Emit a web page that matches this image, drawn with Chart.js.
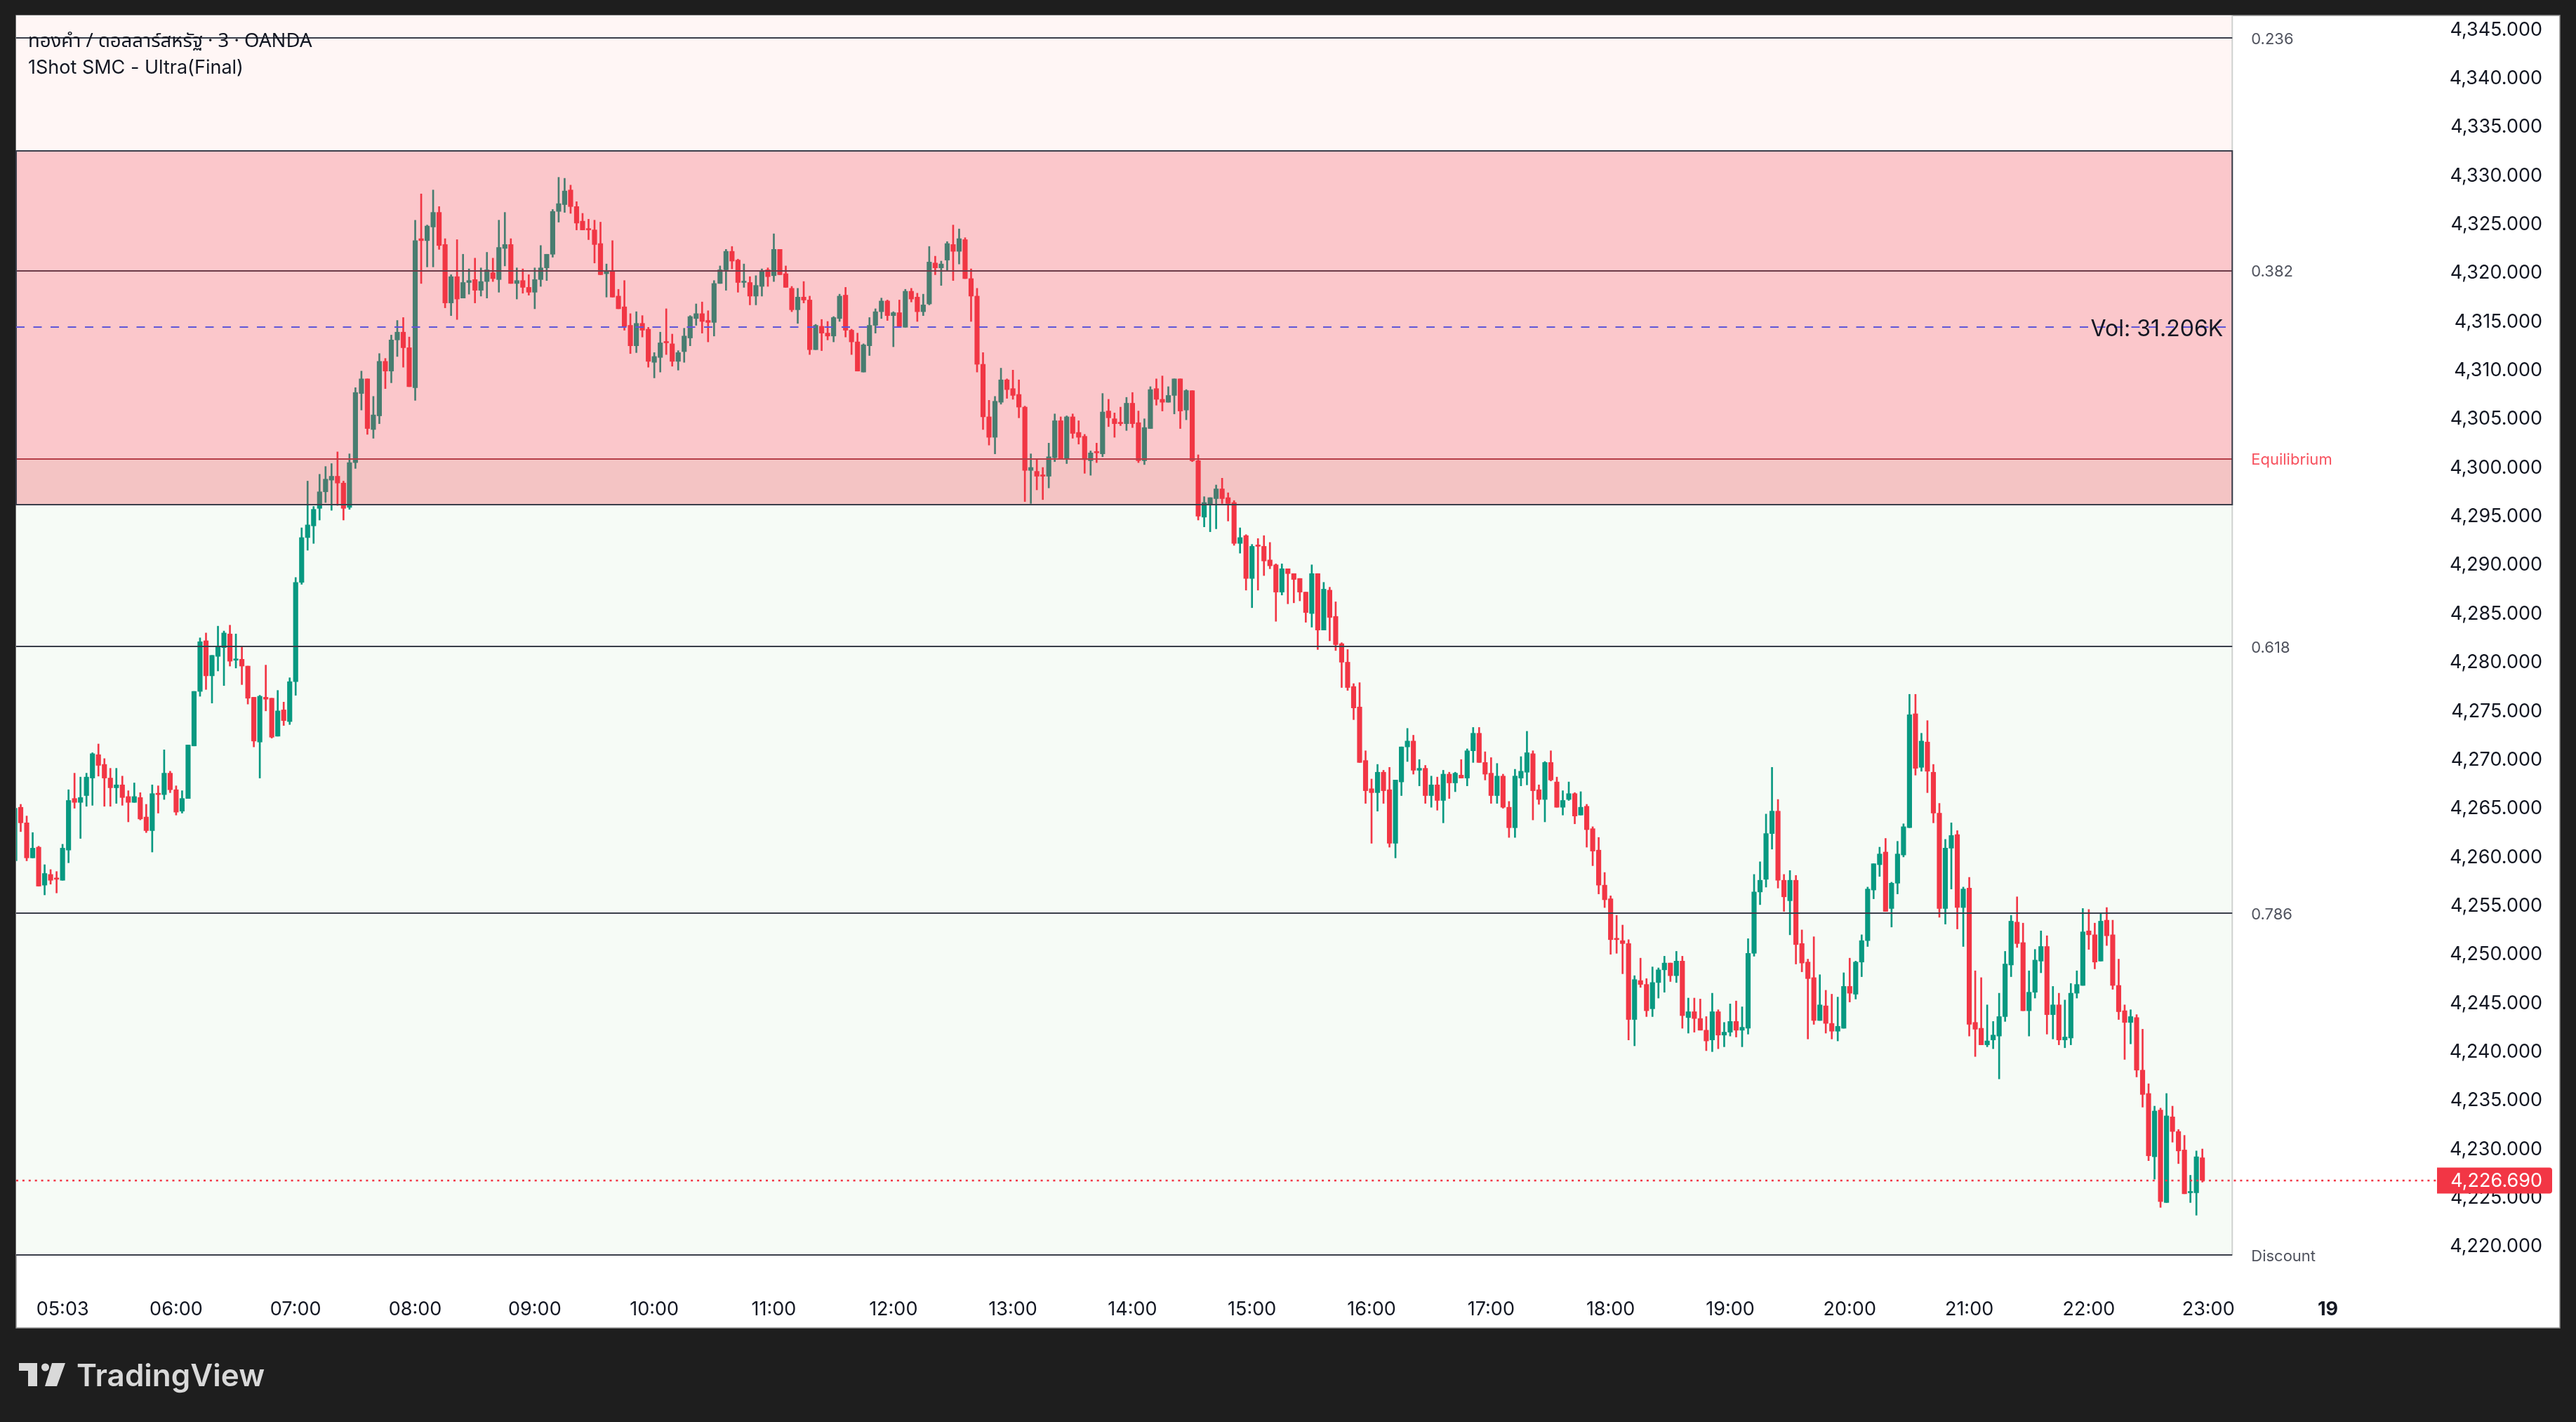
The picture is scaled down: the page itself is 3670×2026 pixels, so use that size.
<!DOCTYPE html>
<html>
<head>
<meta charset="utf-8">
<title>XAUUSD 3m</title>
<script src="https://cdn.jsdelivr.net/npm/chart.js@4"></script>
<style>
html, body { margin: 0; padding: 0; background: #1e1e1e; }
canvas { display: block; }
</style>
</head>
<body>
<canvas id="myChart" width="3670" height="2026"></canvas>
<script>
// 3 minute candles, first bar 04:39
const opens = [
4259.5,4265.0,4263.4,4259.8,4260.9,4257.0,4258.1,4257.7,4257.5,4260.6,
4265.9,4265.5,4266.2,4268.0,4270.4,4269.4,4268.0,4267.0,4267.3,4266.1,
4265.5,4266.0,4264.0,4262.6,4266.4,4266.3,4268.5,4266.8,4264.6,4265.9,
4271.3,4276.9,4282.1,4278.5,4280.5,4281.4,4282.8,4280.1,4280.2,4279.5,
4276.3,4271.7,4276.3,4276.2,4272.3,4275.0,4273.8,4277.9,4288.1,4292.7,
4293.9,4295.7,4297.4,4298.6,4299.0,4298.3,4295.8,4300.4,4307.5,4309.0,
4303.8,4305.2,4310.8,4309.8,4313.0,4313.8,4312.2,4308.1,4323.4,4323.2,
4324.6,4326.1,4322.8,4316.8,4319.5,4317.3,4318.9,4319.2,4318.1,4319.0,
4319.9,4319.2,4322.4,4322.8,4318.8,4319.1,4318.4,4317.9,4319.2,4320.4,
4321.8,4326.2,4326.9,4328.4,4326.7,4325.2,4324.4,4324.3,4322.9,4319.8,
4320.0,4317.5,4316.4,4314.5,4312.4,4314.7,4314.1,4310.7,4311.2,4312.8,
4312.6,4310.8,4311.8,4313.2,4315.2,4315.7,4315.0,4314.8,4318.8,4320.2,
4322.1,4321.2,4318.9,4318.9,4317.5,4318.5,4320.2,4319.6,4322.3,4319.8,
4318.3,4316.1,4317.4,4317.1,4312.0,4314.4,4313.7,4313.4,4315.2,4317.6,
4314.0,4312.8,4309.7,4312.4,4314.5,4315.9,4317.0,4315.5,4315.8,4314.3,
4318.0,4317.4,4315.9,4316.7,4320.9,4320.4,4321.2,4322.8,4322.1,4323.3,
4319.3,4317.5,4310.5,4305.1,4303.0,4306.6,4308.9,4308.0,4307.4,4306.1,
4299.6,4299.5,4299.1,4299.0,4300.9,4304.7,4300.8,4305.1,4303.5,4303.1,
4300.6,4301.5,4301.3,4305.7,4304.9,4304.5,4304.4,4306.5,4304.5,4300.6,
4303.9,4308.0,4306.9,4306.6,4307.3,4309.0,4305.8,4307.8,4300.6,4294.8,
4296.1,4296.7,4297.7,4296.8,4296.3,4292.1,4292.9,4288.5,4291.9,4291.8,
4290.4,4289.9,4287.1,4289.5,4289.0,4288.5,4287.1,4284.9,4289.0,4283.2,
4287.3,4284.6,4281.8,4279.9,4277.4,4275.3,4269.8,4266.9,4266.5,4268.6,
4266.8,4261.3,4267.6,4271.2,4271.8,4268.8,4269.0,4266.2,4267.3,4265.7,
4268.4,4267.5,4268.3,4268.0,4270.8,4272.6,4269.6,4268.5,4266.2,4268.2,
4265.0,4262.9,4268.0,4268.6,4270.5,4266.8,4265.8,4269.6,4267.6,4265.0,
4265.8,4266.4,4264.2,4265.1,4262.8,4260.6,4257.0,4255.6,4251.5,4251.3,
4251.0,4243.2,4247.2,4246.8,4244.3,4247.0,4248.3,4249.0,4247.7,4249.2,
4243.4,4244.0,4243.3,4242.1,4241.1,4244.0,4241.6,4241.9,4243.0,4242.1,
4242.3,4250.0,4256.3,4257.6,4262.3,4264.6,4257.5,4255.4,4257.5,4251.0,
4249.1,4247.5,4243.1,4244.6,4242.8,4242.0,4242.3,4246.6,4245.8,4249.1,
4251.3,4256.5,4259.1,4260.4,4254.6,4257.2,4260.1,4262.9,4274.6,4269.1,
4271.7,4268.6,4264.4,4254.6,4260.8,4262.2,4254.7,4256.7,4242.9,4242.3,
4240.6,4241.1,4241.5,4243.5,4248.8,4253.2,4251.1,4244.1,4246.0,4249.2,
4250.7,4243.7,4244.7,4241.1,4241.3,4245.9,4246.7,4252.3,4251.9,4249.2,
4253.4,4251.9,4246.7,4244.1,4242.9,4243.4,4238.0,4235.6,4229.1,4233.9,
4224.4,4233.2,4231.7,4229.8,4225.4,4225.4,4229.0
];
const closes = [
4264.9,4263.4,4259.8,4260.8,4256.9,4258.2,4257.5,4257.6,4260.8,4265.7,
4265.5,4266.0,4268.1,4270.5,4269.3,4268.0,4267.0,4267.3,4266.0,4265.5,
4266.1,4263.8,4262.6,4266.4,4266.3,4268.5,4266.8,4264.5,4265.9,4271.4,
4276.9,4282.0,4278.5,4280.6,4281.5,4282.9,4280.0,4280.2,4279.5,4276.2,
4271.8,4276.4,4276.1,4272.2,4274.9,4273.9,4277.9,4288.1,4292.7,4294.0,
4295.6,4297.4,4298.7,4299.0,4298.3,4295.7,4300.4,4307.6,4309.0,4303.9,
4305.3,4310.8,4309.8,4313.0,4313.8,4312.2,4308.2,4323.2,4323.2,4324.7,
4326.1,4322.7,4316.8,4319.5,4317.2,4318.9,4319.1,4318.1,4319.0,4320.2,
4319.3,4322.5,4322.8,4318.8,4319.1,4318.4,4317.9,4319.2,4320.4,4321.8,
4326.2,4327.0,4328.3,4326.7,4325.0,4324.3,4324.3,4322.8,4319.7,4320.0,
4317.4,4316.2,4314.4,4312.4,4314.7,4314.0,4310.8,4311.3,4312.7,4312.7,
4310.8,4311.7,4313.4,4315.4,4315.7,4314.9,4314.8,4318.8,4320.2,4322.1,
4321.1,4318.9,4319.0,4317.5,4318.6,4320.0,4319.5,4322.3,4319.7,4318.4,
4316.1,4317.4,4317.1,4312.0,4314.5,4313.7,4313.4,4315.3,4317.5,4314.0,
4312.8,4309.8,4312.5,4314.5,4315.9,4317.0,4315.5,4315.8,4314.4,4318.0,
4317.2,4315.9,4316.6,4321.0,4320.4,4320.8,4322.9,4322.1,4323.4,4319.3,
4317.5,4310.5,4305.1,4303.0,4306.7,4308.9,4307.9,4307.3,4306.1,4299.6,
4299.9,4299.0,4299.0,4301.0,4304.7,4300.8,4305.1,4303.4,4303.0,4300.7,
4301.4,4301.4,4305.6,4305.0,4304.4,4304.4,4306.5,4304.4,4300.6,4304.0,
4307.9,4306.9,4306.6,4307.3,4309.0,4305.7,4307.8,4300.6,4294.9,4296.3,
4296.8,4297.7,4296.7,4296.2,4292.1,4292.7,4288.5,4291.8,4291.8,4290.3,
4289.8,4287.1,4289.5,4289.0,4288.4,4287.1,4285.0,4289.0,4283.2,4287.4,
4284.5,4281.7,4279.9,4277.3,4275.2,4269.6,4266.7,4266.5,4268.6,4266.7,
4261.3,4267.8,4271.2,4271.8,4268.8,4269.0,4266.2,4267.3,4265.7,4268.4,
4267.5,4268.5,4268.0,4270.8,4272.6,4269.6,4268.4,4266.2,4268.2,4265.0,
4262.9,4268.2,4268.7,4270.6,4266.7,4265.8,4269.6,4267.8,4265.0,4265.7,
4266.4,4264.1,4265.0,4262.7,4260.5,4257.0,4255.5,4251.4,4251.4,4251.0,
4243.2,4247.3,4246.8,4244.1,4247.0,4248.3,4249.0,4247.7,4249.2,4243.6,
4244.0,4243.3,4242.1,4241.0,4244.0,4241.6,4241.9,4243.0,4242.1,4242.4,
4250.0,4256.3,4257.5,4262.3,4264.6,4257.5,4255.8,4257.5,4250.9,4249.0,
4247.4,4243.1,4244.7,4242.8,4242.0,4242.5,4246.6,4245.9,4249.1,4251.3,
4256.6,4259.2,4260.2,4254.3,4257.2,4260.2,4263.0,4274.5,4269.0,4271.8,
4268.7,4264.4,4254.6,4260.8,4262.1,4254.7,4256.6,4242.7,4242.2,4240.6,
4241.0,4241.6,4243.5,4248.9,4253.3,4251.0,4244.1,4246.0,4249.3,4250.7,
4243.7,4244.7,4241.1,4241.4,4245.9,4246.8,4252.2,4251.9,4249.1,4253.3,
4251.8,4246.7,4244.0,4242.9,4243.5,4238.0,4235.5,4229.2,4233.8,4224.5,
4233.3,4231.7,4229.7,4225.3,4225.5,4229.1,4226.69
];
const highs = [
4264.9,4265.3,4264.1,4262.4,4261.0,4259.1,4258.6,4258.4,4261.2,4266.8,
4268.5,4268.1,4268.5,4270.6,4271.5,4270.0,4269.0,4269.0,4268.2,4266.7,
4267.5,4266.5,4265.3,4267.3,4267.2,4270.9,4268.7,4267.2,4266.7,4271.4,
4276.9,4282.4,4282.9,4280.6,4283.6,4283.1,4283.7,4282.8,4281.5,4279.5,
4276.3,4276.5,4279.6,4276.2,4277.0,4275.8,4278.3,4288.6,4293.7,4298.5,
4295.9,4299.2,4300.0,4300.3,4301.5,4298.5,4301.3,4308.1,4309.8,4309.0,
4307.2,4311.6,4311.1,4313.5,4315.0,4315.3,4313.3,4325.3,4328.0,4324.8,
4328.4,4326.7,4323.4,4319.7,4323.3,4321.8,4320.3,4321.4,4320.4,4322.0,
4321.4,4325.3,4326.1,4323.4,4320.4,4320.3,4319.7,4320.4,4322.7,4321.8,
4326.4,4329.7,4329.6,4328.9,4327.2,4326.0,4325.4,4325.3,4325.1,4320.8,
4323.2,4318.2,4319.1,4315.7,4315.9,4315.5,4314.3,4311.7,4313.8,4316.2,
4313.6,4311.9,4314.2,4315.5,4316.7,4316.9,4316.0,4319.1,4320.6,4322.3,
4322.6,4321.3,4320.8,4319.5,4319.6,4320.3,4320.4,4323.9,4322.3,4320.6,
4318.5,4318.3,4319.0,4317.5,4314.6,4315.1,4314.9,4315.4,4317.7,4318.4,
4314.1,4313.7,4312.6,4315.3,4316.2,4317.3,4317.1,4315.9,4317.1,4318.2,
4318.3,4317.8,4317.7,4322.6,4321.6,4321.1,4323.1,4324.8,4324.4,4323.5,
4320.3,4318.3,4311.7,4306.8,4307.2,4310.1,4309.0,4309.9,4308.9,4306.2,
4301.3,4300.7,4299.9,4302.4,4305.4,4305.1,4305.2,4305.4,4304.7,4303.3,
4301.6,4302.4,4307.5,4306.9,4305.5,4306.1,4307.1,4307.6,4305.7,4304.9,
4308.2,4309.0,4309.3,4308.2,4309.0,4309.0,4307.9,4307.8,4301.2,4296.9,
4296.8,4298.1,4298.8,4297.3,4296.5,4293.7,4293.0,4292.0,4292.6,4292.9,
4292.2,4290.0,4290.0,4289.5,4289.0,4288.5,4287.1,4289.9,4289.0,4288.1,
4287.6,4286.1,4281.9,4281.2,4277.7,4277.8,4270.8,4267.9,4269.4,4268.8,
4269.1,4267.8,4271.2,4273.1,4272.4,4269.9,4269.3,4268.2,4268.1,4268.8,
4268.6,4268.6,4269.9,4271.0,4273.2,4273.2,4270.7,4270.1,4269.5,4268.4,
4265.6,4268.9,4270.2,4272.8,4270.8,4267.3,4269.7,4270.8,4268.1,4266.7,
4267.6,4266.5,4266.6,4265.3,4263.0,4261.9,4258.3,4255.9,4253.9,4252.9,
4251.4,4247.7,4249.5,4247.4,4248.6,4248.5,4249.7,4249.0,4250.2,4249.7,
4245.4,4245.4,4245.3,4243.5,4245.9,4244.2,4242.9,4244.8,4245.1,4244.5,
4251.5,4258.1,4259.4,4264.3,4269.1,4265.8,4258.1,4258.5,4258.0,4252.4,
4249.4,4251.7,4247.8,4246.2,4245.8,4245.5,4248.0,4249.5,4249.2,4251.9,
4256.8,4259.2,4260.9,4261.8,4257.3,4261.5,4263.3,4276.6,4276.6,4272.6,
4273.9,4269.4,4265.4,4261.7,4263.4,4262.6,4256.8,4257.8,4248.2,4247.5,
4244.7,4243.0,4245.9,4250.2,4253.9,4255.8,4253.1,4248.2,4250.4,4252.3,
4251.8,4246.6,4245.9,4245.2,4246.9,4248.2,4254.6,4254.5,4253.1,4254.1,
4254.7,4253.4,4249.4,4244.7,4244.2,4243.7,4242.2,4236.6,4234.3,4234.1,
4235.6,4234.3,4231.9,4231.3,4227.2,4229.7,4229.9
];
const lows = [
4259.5,4262.5,4259.5,4259.8,4256.9,4256.0,4257.1,4256.2,4257.5,4259.3,
4264.9,4261.8,4265.1,4265.2,4268.2,4265.1,4265.1,4265.4,4265.2,4263.5,
4265.5,4263.7,4262.4,4260.4,4264.4,4265.8,4266.5,4264.2,4264.4,4265.9,
4271.3,4276.4,4277.1,4275.7,4279.0,4277.5,4279.5,4279.3,4277.6,4275.6,
4271.2,4268.0,4274.9,4272.1,4272.3,4273.4,4273.5,4276.5,4287.9,4291.4,
4292.1,4294.5,4296.3,4295.5,4296.0,4294.5,4295.6,4299.8,4305.8,4303.3,
4302.9,4304.4,4308.0,4308.6,4311.3,4310.2,4308.2,4306.8,4318.8,4320.5,
4320.5,4322.3,4316.3,4315.5,4315.1,4317.3,4317.7,4316.8,4317.5,4317.3,
4319.0,4317.9,4320.6,4318.8,4317.2,4317.8,4317.6,4316.2,4318.5,4319.1,
4321.5,4325.1,4326.1,4326.0,4324.3,4324.3,4323.3,4320.9,4319.7,4317.4,
4317.4,4316.2,4314.0,4311.6,4311.7,4313.3,4310.2,4309.1,4309.7,4311.5,
4310.3,4309.9,4310.7,4312.4,4314.5,4313.7,4312.8,4313.4,4318.8,4318.1,
4320.3,4317.9,4318.4,4316.6,4316.6,4317.5,4318.5,4319.0,4319.7,4318.4,
4315.9,4314.7,4316.8,4311.5,4312.0,4311.9,4313.0,4312.8,4314.9,4313.3,
4311.5,4309.8,4309.7,4311.4,4313.7,4315.2,4315.0,4312.3,4314.4,4314.3,
4316.9,4314.9,4315.5,4316.6,4319.7,4318.6,4320.1,4319.1,4320.8,4319.3,
4314.9,4309.7,4303.8,4302.2,4301.3,4306.4,4307.0,4306.9,4305.0,4296.4,
4296.2,4297.6,4296.6,4297.8,4300.5,4300.8,4300.3,4302.9,4302.3,4299.3,
4299.1,4300.4,4301.0,4304.1,4303.0,4304.2,4303.7,4304.0,4300.4,4300.2,
4303.9,4306.3,4305.7,4306.6,4305.4,4303.9,4304.8,4300.5,4294.5,4293.8,
4293.3,4293.6,4296.2,4294.4,4291.9,4291.1,4287.3,4285.5,4287.3,4288.8,
4289.5,4284.1,4286.8,4285.9,4286.0,4286.2,4284.0,4283.5,4281.2,4283.2,
4282.1,4281.1,4277.3,4277.0,4274.0,4269.6,4265.4,4261.3,4264.6,4265.4,
4260.9,4259.8,4266.2,4269.7,4268.4,4267.2,4265.4,4265.0,4264.7,4263.4,
4265.9,4266.6,4268.0,4267.2,4269.6,4269.6,4267.8,4265.4,4265.4,4264.9,
4261.9,4261.9,4267.2,4267.3,4263.7,4265.3,4263.5,4267.7,4265.0,4264.2,
4265.7,4263.3,4264.2,4260.9,4259.0,4256.1,4254.7,4249.9,4250.0,4247.9,
4241.1,4240.5,4246.5,4243.5,4243.5,4245.4,4246.0,4247.1,4247.0,4242.3,
4241.8,4241.9,4242.1,4240.0,4239.9,4240.2,4240.4,4241.5,4241.4,4240.4,
4241.7,4249.7,4255.0,4256.8,4260.7,4256.7,4254.3,4251.9,4248.9,4248.1,
4241.2,4242.7,4243.1,4241.8,4241.2,4241.0,4242.3,4245.0,4245.3,4247.6,
4250.7,4255.6,4257.9,4254.3,4252.7,4256.1,4259.9,4262.9,4268.3,4268.7,
4266.5,4263.4,4253.7,4253.0,4256.6,4252.5,4250.7,4241.5,4239.4,4240.6,
4240.4,4240.2,4237.1,4243.0,4247.6,4250.6,4244.1,4241.5,4245.4,4248.0,
4241.7,4241.2,4240.6,4240.3,4240.6,4245.4,4246.7,4250.4,4248.4,4249.2,
4250.8,4246.3,4243.2,4239.1,4240.7,4237.3,4234.2,4228.7,4226.8,4223.9,
4224.4,4230.6,4228.4,4225.3,4224.4,4223.1,4226.5
];

const timeTickBars = [8, 27, 47, 67, 87, 107, 127, 147, 167, 187, 207, 227, 247, 267, 287, 307, 327, 347, 367, 387];
const timeTickLabels = ['05:03', '06:00', '07:00', '08:00', '09:00', '10:00', '11:00', '12:00', '13:00', '14:00', '15:00', '16:00', '17:00', '18:00', '19:00', '20:00', '21:00', '22:00', '23:00', '19'];
const priceTicks = [4220, 4225, 4230, 4235, 4240, 4245, 4250, 4255, 4260, 4265, 4270, 4275, 4280, 4285, 4290, 4295, 4300, 4305, 4310, 4315, 4320, 4325, 4330, 4335, 4340, 4345];

// levels of the indicator
const fibLevels = [4344, 4320.1, 4281.5, 4254.1];
const fibLabels = ['0.236', '0.382', '0.618', '0.786'];
const boxTop = 4332.4;
const boxBottom = 4296.1;
const equilibrium = 4300.8;
const discount = 4219;
const volLevel = 4314.3;
const lastPrice = 4226.69;

const upColor = '#089981';
const downColor = '#f23645';
const lineColor = '#3a3e4a';
const fontName = 'Inter, "Noto Sans", sans-serif';
const paneEndBar = 371;

const priceLabel = v => v.toLocaleString('en-US', { minimumFractionDigits: 3, maximumFractionDigits: 3 });

const candleColor = ctx => closes[ctx.dataIndex] >= opens[ctx.dataIndex] ? upColor : downColor;

function hLine(c, x0, x1, y, color, width) {
    c.strokeStyle = color;
    c.lineWidth = width;
    c.beginPath();
    c.moveTo(x0, Math.round(y));
    c.lineTo(x1, Math.round(y));
    c.stroke();
}

const smcPlugin = {
    id: 'smc',
    beforeDraw(chart) {
        const c = chart.ctx;
        c.save();
        c.fillStyle = '#ffffff';
        c.fillRect(23, 22, 3624, 1870);
        c.strokeStyle = '#8f8f8f';
        c.lineWidth = 1.5;
        c.strokeRect(23, 22, 3624, 1870);
        c.restore();
    },
    beforeDatasetsDraw(chart) {
        const c = chart.ctx, a = chart.chartArea;
        const X = chart.scales.x, Y = chart.scales.y;
        const right = X.getPixelForValue(paneEndBar);
        c.save();
        c.fillStyle = '#fff6f5';
        c.fillRect(a.left, a.top, right - a.left, Y.getPixelForValue(boxTop) - a.top);
        c.fillStyle = '#f6fbf6';
        c.fillRect(a.left, Y.getPixelForValue(equilibrium), right - a.left, Y.getPixelForValue(discount) - Y.getPixelForValue(equilibrium));
        c.restore();
    },
    afterDatasetsDraw(chart) {
        const c = chart.ctx, a = chart.chartArea;
        const X = chart.scales.x, Y = chart.scales.y;
        const right = X.getPixelForValue(paneEndBar);
        const yTop = Math.round(Y.getPixelForValue(boxTop)), yBot = Math.round(Y.getPixelForValue(boxBottom));
        c.save();
        // pane edge
        c.strokeStyle = '#cfd2d0';
        c.lineWidth = 2;
        c.beginPath();
        c.moveTo(right, a.top);
        c.lineTo(right, Y.getPixelForValue(discount));
        c.stroke();
        // fib lines go under the red box
        fibLevels.forEach(v => hLine(c, a.left, right, Y.getPixelForValue(v), lineColor, 2));
        hLine(c, a.left, right, Y.getPixelForValue(discount), lineColor, 2);
        hLine(c, a.left, right, Y.getPixelForValue(equilibrium), '#a04148', 2);
        // red box
        c.fillStyle = 'rgba(242, 54, 69, 0.28)';
        c.fillRect(a.left, yTop, right - a.left, yBot - yTop);
        c.strokeStyle = lineColor;
        c.lineWidth = 2;
        c.strokeRect(a.left, yTop, right - a.left, yBot - yTop);
        // volume level
        c.setLineDash([12, 12.5]);
        hLine(c, a.left, right, Y.getPixelForValue(volLevel), '#5f55d8', 2);
        // last price
        c.setLineDash([3, 5.9]);
        hLine(c, a.left, X.getPixelForValue(405.5), Y.getPixelForValue(lastPrice), downColor, 2.5);
        c.setLineDash([]);
        c.restore();
    },
    afterDraw(chart) {
        const c = chart.ctx;
        const X = chart.scales.x, Y = chart.scales.y;
        const right = X.getPixelForValue(paneEndBar);
        c.save();
        c.textBaseline = 'middle';
        // legend
        c.textAlign = 'left';
        c.fillStyle = '#131722';
        c.font = '27.5px "Noto Sans Thai", ' + fontName;
        c.fillText('ทองคำ / ดอลลาร์สหรัฐ · 3 · OANDA', 40, 61);
        c.font = '27px ' + fontName;
        c.fillText('1Shot SMC - Ultra(Final)', 40, 97);
        // fib labels on the right of the pane
        c.font = '22px ' + fontName;
        c.fillStyle = '#50535e';
        fibLevels.forEach((v, i) => c.fillText(fibLabels[i], right + 27, Y.getPixelForValue(v) + 2));
        c.fillText('Discount', right + 27, Y.getPixelForValue(discount) + 2);
        c.fillStyle = '#f7525f';
        c.fillText('Equilibrium', right + 27, Y.getPixelForValue(equilibrium) + 2);
        // volume text
        c.textAlign = 'right';
        c.fillStyle = '#131722';
        c.font = '32px ' + fontName;
        c.fillText('Vol: 31.206K', right - 13, Y.getPixelForValue(volLevel) + 3);
        // price badge
        const by = Y.getPixelForValue(lastPrice);
        c.fillStyle = downColor;
        c.beginPath();
        c.roundRect(3472, by - 18, 164, 37, [0, 4, 4, 0]);
        c.fill();
        c.fillStyle = '#ffffff';
        c.font = '27px ' + fontName;
        c.fillText(priceLabel(lastPrice), 3622, by + 1);
        // logo
        c.fillStyle = '#d9d9d9';
        c.beginPath();
        c.moveTo(27, 1942);
        c.lineTo(53, 1942);
        c.lineTo(53, 1975);
        c.lineTo(40, 1975);
        c.lineTo(40, 1953);
        c.lineTo(27, 1953);
        c.closePath();
        c.moveTo(74, 1942);
        c.lineTo(93, 1942);
        c.lineTo(81, 1975);
        c.lineTo(64, 1975);
        c.closePath();
        c.fill();
        c.beginPath();
        c.arc(64.5, 1948, 5.5, 0, Math.PI * 2);
        c.fill();
        c.textAlign = 'left';
        c.font = '600 44px ' + fontName;
        c.fillText('TradingView', 109, 1962);
        c.restore();
    }
};

new Chart(document.getElementById('myChart'), {
    type: 'bar',
    data: {
        datasets: [{
            label: 'Body',
            data: opens.map((o, i) => ({ x: i, y: [o, closes[i]] })),
            backgroundColor: candleColor,
            barThickness: 6.5,
            minBarLength: 2,
            grouped: false,
            borderWidth: 0
        }, {
            label: 'Wick',
            data: highs.map((h, i) => ({ x: i, y: [lows[i], h] })),
            backgroundColor: candleColor,
            barThickness: 2,
            grouped: false,
            borderWidth: 0
        }]
    },
    options: {
        responsive: false,
        animation: false,
        devicePixelRatio: 1,
        layout: { padding: { left: 23, top: 22, right: 48, bottom: 134 } },
        plugins: { legend: { display: false }, tooltip: { enabled: false } },
        scales: {
            x: {
                type: 'linear',
                offset: false,
                min: 0.235,
                max: 406.2,
                grid: { display: false },
                border: { display: false },
                afterFit: s => { s.height = 72; s.paddingLeft = 0; s.paddingRight = 0; },
                afterBuildTicks: s => { s.ticks = timeTickBars.map(v => ({ value: v })); },
                ticks: {
                    autoSkip: false,
                    maxRotation: 0,
                    padding: 22,
                    color: '#131722',
                    font: ctx => ({ family: fontName, size: 27, weight: ctx.tick && ctx.tick.value === 387 ? 700 : 400 }),
                    callback: v => timeTickLabels[timeTickBars.indexOf(v)]
                }
            },
            y: {
                position: 'right',
                min: 4216.71,
                max: 4346.33,
                grid: { display: false, drawTicks: false },
                border: { display: false },
                afterFit: s => { s.width = 142; s.paddingTop = 0; s.paddingBottom = 0; },
                afterBuildTicks: s => { s.ticks = priceTicks.map(v => ({ value: v })); },
                ticks: {
                    autoSkip: false,
                    crossAlign: 'far',
                    padding: 0,
                    labelOffset: 2,
                    color: '#131722',
                    font: { family: fontName, size: 27 },
                    callback: v => priceLabel(v)
                }
            }
        }
    },
    plugins: [smcPlugin]
});
</script>
</body>
</html>
